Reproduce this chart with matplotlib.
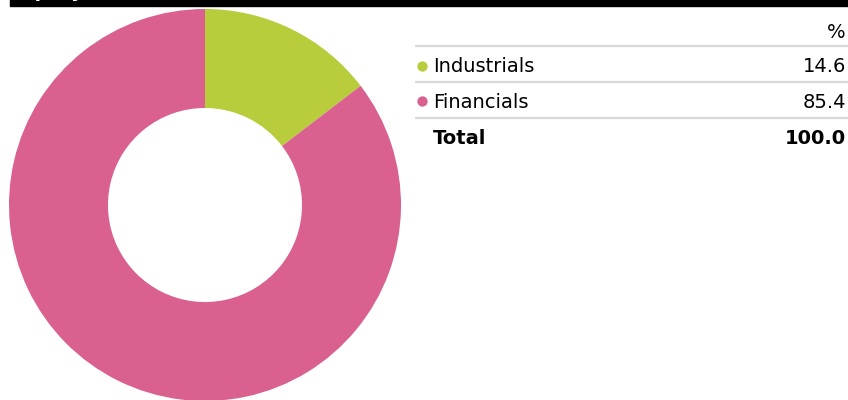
import matplotlib.pyplot as plt
from matplotlib.patches import Rectangle

# data
sectors = ["Industrials", "Financials"]
weights = [14.6, 85.4]
colours = ["#b8cc3c", "#d9608f"]
total_label = "Total"
total_value = 100.0
title = "Equity sector breakdown"

W, H = 848, 400
fig = plt.figure(figsize=(W / 100, H / 100), dpi=100)

# donut
cx, cy, r = 205, 205, 196
ax = fig.add_axes([(cx - r) / W, (H - cy - r) / H, 2 * r / W, 2 * r / H])
ax.pie(weights, colors=colours, startangle=90, counterclock=False,
       radius=1, wedgeprops=dict(width=0.505, linewidth=0))
ax.set_xlim(-1, 1)
ax.set_ylim(-1, 1)
ax.set_aspect("equal")
ax.axis("off")

# overlay in pixel coords for title bar and table
ov = fig.add_axes([0, 0, 1, 1], zorder=5)
ov.set_xlim(0, W)
ov.set_ylim(H, 0)
ov.axis("off")
ov.patch.set_alpha(0)

ov.add_patch(Rectangle((10, -20), W - 10, 26, color="black", clip_on=True))
ov.text(14, -3, title, color="white", fontsize=14, fontweight="bold",
        va="baseline", ha="left", clip_on=True)

fs = 14
x0, x1 = 415, 848
ov.text(846, 33, "%", ha="right", va="center", fontsize=fs, color="black")
row_y = [67, 102]
line_y = [46, 82, 118]
for y in line_y:
    ov.plot([x0, x1], [y, y], color="#d9d9d9", lw=1.6, solid_capstyle="butt")
for name, val, c, y in zip(sectors, weights, colours, row_y):
    ov.scatter([422], [y - 1], s=55, color=c, linewidths=0)
    ov.text(433, y, name, ha="left", va="center", fontsize=fs, color="black")
    ov.text(846, y, f"{val:.1f}", ha="right", va="center", fontsize=fs, color="black")
ov.text(433, 138, total_label, ha="left", va="center", fontsize=fs,
        fontweight="bold", color="black")
ov.text(846, 138, f"{total_value:.1f}", ha="right", va="center", fontsize=fs,
        fontweight="bold", color="black")

fig.savefig("out.png", dpi=100)
